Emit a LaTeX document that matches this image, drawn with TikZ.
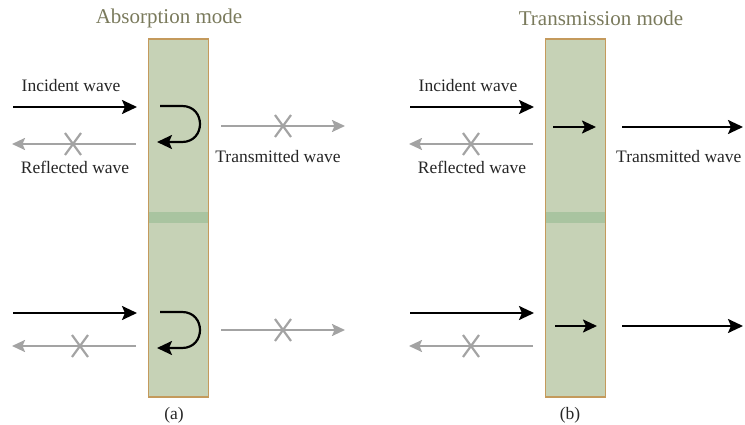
\documentclass[tikz,border=0pt]{standalone}
\usepackage{fontspec}
\setmainfont{Liberation Serif}
\usetikzlibrary{arrows.meta}
\definecolor{slabfill}{HTML}{C6D2B6}
\definecolor{slabedge}{HTML}{C49A5C}
\definecolor{bandcol}{HTML}{A9C4A0}
\definecolor{greyarr}{HTML}{A3A3A3}
\definecolor{titlecol}{HTML}{7A7A5C}
\definecolor{txt}{HTML}{262626}
\tikzset{
  slab/.style={fill=slabfill, draw=slabedge, line width=1.2pt},
  band/.style={fill=bandcol, draw=none},
  blackarr/.style={draw=black, line width=2.2pt, -{Stealth[length=15pt,width=14pt,inset=3pt]}},
  smallarr/.style={draw=black, line width=2.2pt, -{Stealth[length=14pt,width=13pt,inset=3pt]}},
  greyarrow/.style={draw=greyarr, line width=2.2pt, -{Stealth[length=13pt,width=12pt,inset=2.5pt]}},
  xmark/.style={draw=greyarr, line width=2.2pt},
  lbl/.style={font=\fontsize{17.5}{20}\selectfont, text=txt, inner sep=0pt},
  ttl/.style={font=\fontsize{21}{24}\selectfont, text=titlecol, inner sep=0pt},
}
\newcommand{\crossat}[2]{\draw[xmark] (#1-8,#2-11) -- (#1+8,#2+11) (#1-8,#2+11) -- (#1+8,#2-11);}
\begin{document}
\begin{tikzpicture}[x=1pt,y=-1pt]
\useasboundingbox (0,0) rectangle (745,425);
% slabs
\node[slab, minimum width=60pt, minimum height=358pt, inner sep=0pt] (slabA) at (178.5,218) {};
\fill[band] (149,212) rectangle (208,223);
\draw[slabedge, line width=1.2pt] (148.5,39) -- (148.5,397) (208.5,39) -- (208.5,397);
\node[slab, minimum width=60pt, minimum height=358pt, inner sep=0pt] (slabB) at (575.5,218) {};
\fill[band] (546,212) rectangle (605,223);
\draw[slabedge, line width=1.2pt] (545.5,39) -- (545.5,397) (605.5,39) -- (605.5,397);
% titles
\node[ttl] (tA) at (169,18) {Absorption mode};
\node[ttl] (tB) at (601,18) {Transmission mode};
% ---------- (a) top
\coordinate (aI1s) at (13,107); \coordinate (aI1e) at (137,107);
\draw[blackarr] (aI1s) -- (aI1e);
\node[lbl] (aInc) at (71,86) {Incident wave};
\coordinate (aR1s) at (136,144); \coordinate (aR1e) at (12,144);
\draw[greyarrow] (aR1s) -- (aR1e);
\crossat{73}{144}
\node[lbl] (aRef) at (75,167) {Reflected wave};
\coordinate (aU1s) at (160,106); \coordinate (aU1e) at (157,142);
\draw[blackarr] (aU1s) -- (182,106) .. controls (206,106) and (206,142) .. (182,142) -- (aU1e);
\coordinate (aT1s) at (221,126); \coordinate (aT1e) at (345,126);
\draw[greyarrow] (aT1s) -- (aT1e);
\crossat{283}{126}
\node[lbl] (aTr) at (278,157) {Transmitted wave};
% ---------- (a) bottom
\coordinate (aI2s) at (13,313); \coordinate (aI2e) at (137,313);
\draw[blackarr] (aI2s) -- (aI2e);
\coordinate (aR2s) at (136,346); \coordinate (aR2e) at (12,346);
\draw[greyarrow] (aR2s) -- (aR2e);
\crossat{80}{346}
\coordinate (aU2s) at (160,312); \coordinate (aU2e) at (157,348);
\draw[blackarr] (aU2s) -- (182,312) .. controls (206,312) and (206,348) .. (182,348) -- (aU2e);
\coordinate (aT2s) at (221,330); \coordinate (aT2e) at (345,330);
\draw[greyarrow] (aT2s) -- (aT2e);
\crossat{283}{330}
\node[lbl] (capA) at (174,415) {(a)};
% ---------- (b) top
\coordinate (bI1s) at (410,107); \coordinate (bI1e) at (534,107);
\draw[blackarr] (bI1s) -- (bI1e);
\node[lbl] (bInc) at (468,86) {Incident wave};
\coordinate (bR1s) at (533,144); \coordinate (bR1e) at (409,144);
\draw[greyarrow] (bR1s) -- (bR1e);
\crossat{471}{144}
\node[lbl] (bRef) at (472,167) {Reflected wave};
\coordinate (bM1s) at (553,127); \coordinate (bM1e) at (596,127);
\draw[smallarr] (bM1s) -- (bM1e);
\coordinate (bT1s) at (622,127); \coordinate (bT1e) at (743,127);
\draw[blackarr] (bT1s) -- (bT1e);
\node[lbl, anchor=west] (bTr) at (616,157) {Transmitted wave};
% ---------- (b) bottom
\coordinate (bI2s) at (410,313); \coordinate (bI2e) at (534,313);
\draw[blackarr] (bI2s) -- (bI2e);
\coordinate (bR2s) at (533,346); \coordinate (bR2e) at (409,346);
\draw[greyarrow] (bR2s) -- (bR2e);
\crossat{471}{346}
\coordinate (bM2s) at (555,326); \coordinate (bM2e) at (597,326);
\draw[smallarr] (bM2s) -- (bM2e);
\coordinate (bT2s) at (622,326); \coordinate (bT2e) at (743,326);
\draw[blackarr] (bT2s) -- (bT2e);
\node[lbl] (capB) at (570,415) {(b)};
\end{tikzpicture}
\end{document}
